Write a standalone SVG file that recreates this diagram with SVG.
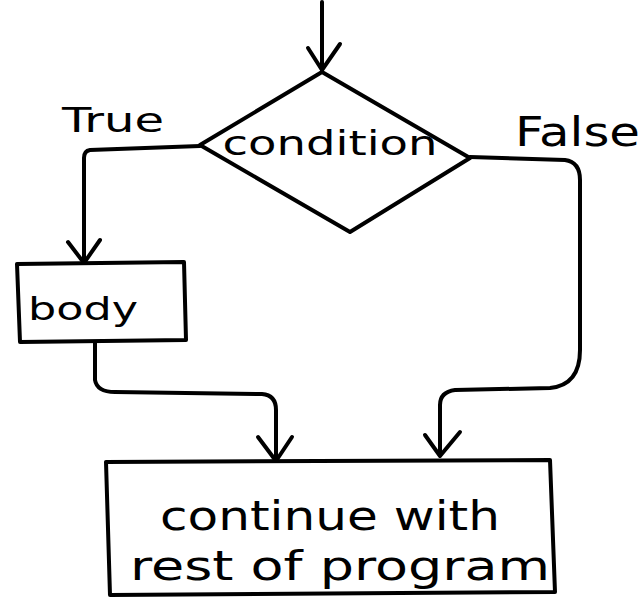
<svg xmlns="http://www.w3.org/2000/svg" width="644" height="600" viewBox="0 0 644 600">
<style>
.ln{fill:none;stroke:#000;stroke-width:4;stroke-linecap:round;stroke-linejoin:round}
.t{font-family:"DejaVu Sans",sans-serif;fill:#000}
</style>
<rect width="644" height="600" fill="#fff"/>
<g id="connectors">
<path class="ln" d="M322,2 L322,70"/>
<path class="ln" d="M308,48 L322,70 L340,44"/>
<path class="ln" d="M200,146 L90,150 Q84,151 84,158 L84,262"/>
<path class="ln" d="M68,242 L84,263 L100,240"/>
<path class="ln" d="M95,342 L95,380 Q97,392 115,392 L262,394 Q276,395 276,410 L276,460"/>
<path class="ln" d="M258,437 L276,461 L292,437"/>
<path class="ln" d="M470,157 L565,160 Q580,162 580,180 L580,350 Q580,385 550,388 L455,390 Q440,392 440,405 L440,455"/>
<path class="ln" d="M425,435 L440,456 L460,432"/>
</g>
<g id="condition">
<path class="ln" d="M322,72 L470,158 L350,232 L200,145 Z"/>
<text class="t" x="330" y="155" font-size="34" text-anchor="middle" textLength="215" lengthAdjust="spacingAndGlyphs">condition</text>
</g>
<g id="true-label"><text class="t" x="62" y="132" font-size="34" textLength="102" lengthAdjust="spacingAndGlyphs">True</text></g>
<g id="false-label"><text class="t" x="515" y="146" font-size="40" textLength="125" lengthAdjust="spacingAndGlyphs">False</text></g>
<g id="body">
<path class="ln" d="M17,264 L184,262 L186,340 L20,342 Z"/>
<text class="t" x="28" y="320" font-size="32" textLength="110" lengthAdjust="spacingAndGlyphs">body</text>
</g>
<g id="continue">
<path class="ln" d="M106,462 L550,460 L555,592 L110,595 Z"/>
<text class="t" x="330" y="530" font-size="40" text-anchor="middle" textLength="340" lengthAdjust="spacingAndGlyphs">continue with</text>
<text class="t" x="340" y="580" font-size="40" text-anchor="middle" textLength="420" lengthAdjust="spacingAndGlyphs">rest of program</text>
</g>
</svg>
